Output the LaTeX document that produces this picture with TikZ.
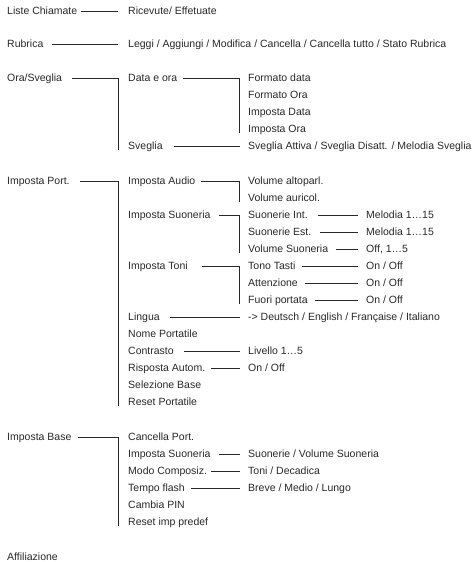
\documentclass[tikz,border=0pt]{standalone}
\usepackage{fontspec}
\setmainfont{Liberation Sans}
\definecolor{ink}{RGB}{40,40,40}
\begin{document}
\begin{tikzpicture}[x=1pt,y=-1pt,
  txt/.style={inner sep=0pt, anchor=west, text height=7.5pt, text depth=0pt,
              font=\fontsize{10.5}{12}\selectfont, text=ink},
  conn/.style={draw=ink, line width=0.7pt}]
\useasboundingbox (0,0) rectangle (473,562);
\coordinate (J1) at (118,0);
\coordinate (J2) at (239.5,0);
\coordinate (J3) at (358,0);
% column 1
\node[txt] (a1) at (7,11) {Liste Chiamate};
\node[txt] (a2) at (7,44) {Rubrica};
\node[txt] (a3) at (7,78) {Ora/Sveglia};
\node[txt] (a4) at (7,181) {Imposta Port.};
\node[txt] (a5) at (7,437) {Imposta Base};
\node[txt] (a6) at (7,557) {Affiliazione};
% column 2
\node[txt] (b1) at (128,11) {Ricevute/ Effetuate};
\node[txt] (b2) at (128,44) {Leggi / Aggiungi / Modifica / Cancella / Cancella tutto / Stato Rubrica};
\node[txt] (b3) at (128,78) {Data e ora};
\node[txt] (b4) at (128,146) {Sveglia};
\node[txt] (b5) at (128,181) {Imposta Audio};
\node[txt] (b6) at (128,215) {Imposta Suoneria};
\node[txt] (b7) at (128,266) {Imposta Toni};
\node[txt] (b8) at (128,317) {Lingua};
\node[txt] (b9) at (128,334) {Nome Portatile};
\node[txt] (b10) at (128,351) {Contrasto};
\node[txt] (b11) at (128,368) {Risposta Autom.};
\node[txt] (b12) at (128,385) {Selezione Base};
\node[txt] (b13) at (128,402) {Reset Portatile};
\node[txt] (b14) at (128,437) {Cancella Port.};
\node[txt] (b15) at (128,454) {Imposta Suoneria};
\node[txt] (b16) at (128,471) {Modo Composiz.};
\node[txt] (b17) at (128,488) {Tempo flash};
\node[txt] (b18) at (128,505) {Cambia PIN};
\node[txt] (b19) at (128,522) {Reset imp predef};
% column 3
\node[txt] (c1) at (248,78) {Formato data};
\node[txt] (c2) at (248,95) {Formato Ora};
\node[txt] (c3) at (248,112) {Imposta Data};
\node[txt] (c4) at (248,129) {Imposta Ora};
\node[txt] (c5) at (248,146) {Sveglia Attiva / Sveglia Disatt. / Melodia Sveglia};
\node[txt] (c6) at (248,181) {Volume altoparl.};
\node[txt] (c7) at (248,198) {Volume auricol.};
\node[txt] (c8) at (248,215) {Suonerie Int.};
\node[txt] (c9) at (248,232) {Suonerie Est.};
\node[txt] (c10) at (248,249) {Volume Suoneria};
\node[txt] (c11) at (248,266) {Tono Tasti};
\node[txt] (c12) at (248,283) {Attenzione};
\node[txt] (c13) at (248,300) {Fuori portata};
\node[txt] (c14) at (248,317) {-> Deutsch / English / Française / Italiano};
\node[txt] (c15) at (248,351) {Livello 1…5};
\node[txt] (c16) at (248,368) {On / Off};
\node[txt] (c17) at (248,454) {Suonerie / Volume Suoneria};
\node[txt] (c18) at (248,471) {Toni / Decadica};
\node[txt] (c19) at (248,488) {Breve / Medio / Lungo};
% column 4
\node[txt] (d1) at (366,215) {Melodia 1…15};
\node[txt] (d2) at (366,232) {Melodia 1…15};
\node[txt] (d3) at (366,249) {Off, 1…5};
\node[txt] (d4) at (366,266) {On / Off};
\node[txt] (d5) at (366,283) {On / Off};
\node[txt] (d6) at (366,300) {On / Off};
% connectors column 1 -> 2
\draw[conn] ([xshift=4pt]a1.east) -- (a1.east -| J1);
\draw[conn] ([xshift=8.5pt]a2.east) -- (a2.east -| J1);
\draw[conn] ([xshift=10pt]a3.east) -- (a3.east -| J1) -- ([yshift=-3.5pt]b4.west -| J1);
\draw[conn] ([xshift=10.5pt]a4.east) -- (a4.east -| J1) -- ([yshift=-3.5pt]b13.west -| J1);
\draw[conn] ([xshift=6pt]a5.east) -- (a5.east -| J1) -- ([yshift=-3.5pt]b19.west -| J1);
% connectors column 2 -> 3
\draw[conn] ([xshift=6pt]b3.east) -- (b3.east -| J2) -- ([yshift=-3.5pt]c4.west -| J2);
\draw[conn] ([xshift=11pt]b4.east) -- (b4.east -| J2);
\draw[conn] ([xshift=5pt]b5.east) -- (b5.east -| J2) -- ([yshift=-3.5pt]c7.west -| J2);
\draw[conn] ([xshift=8pt]b6.east) -- (b6.east -| J2) -- ([yshift=-3.5pt]c10.west -| J2);
\draw[conn] ([xshift=14pt]b7.east) -- (b7.east -| J2) -- ([yshift=-3.5pt]c13.west -| J2);
\draw[conn] ([xshift=10pt]b8.east) -- (b8.east -| J2);
\draw[conn] ([xshift=10pt]b10.east) -- (b10.east -| J2);
\draw[conn] ([xshift=6pt]b11.east) -- (b11.east -| J2);
\draw[conn] ([xshift=8pt]b15.east) -- (b15.east -| J2);
\draw[conn] ([xshift=4pt]b16.east) -- (b16.east -| J2);
\draw[conn] ([xshift=6pt]b17.east) -- (b17.east -| J2);
% connectors column 3 -> 4
\draw[conn] ([xshift=10pt]c8.east) -- (c8.east -| J3);
\draw[conn] ([xshift=9pt]c9.east) -- (c9.east -| J3);
\draw[conn] ([xshift=8pt]c10.east) -- (c10.east -| J3);
\draw[conn] ([xshift=6pt]c11.east) -- (c11.east -| J3);
\draw[conn] ([xshift=7pt]c12.east) -- (c12.east -| J3);
\draw[conn] ([xshift=7pt]c13.east) -- (c13.east -| J3);
\end{tikzpicture}
\end{document}
